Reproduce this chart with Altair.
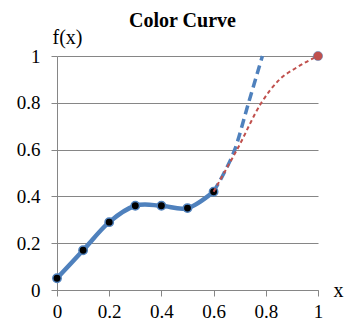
import altair as alt
import pandas as pd

# main data points (smoothed blue curve with markers)
x_pts = [0.0, 0.1, 0.2, 0.3, 0.4, 0.5, 0.6]
y_pts = [0.05, 0.17, 0.29, 0.36, 0.36, 0.35, 0.42]

# blue dashed extrapolation
blue_x = [0.6, 0.64, 0.681, 0.734, 0.787]
blue_y = [0.42, 0.5, 0.6, 0.8, 1.0]

# red dashed curve to end point
red_x = [0.6, 0.64, 0.69, 0.783, 0.853, 0.917, 1.0]
red_y = [0.42, 0.5, 0.6, 0.8, 0.9, 0.95, 1.0]

end_x = [1.0]
end_y = [1.0]

tick_vals = [0, 0.2, 0.4, 0.6, 0.8, 1.0]

BLUE = "#4F81BD"
RED = "#C0504D"
GRID = "#868686"
FONT = "Liberation Serif"

df_main = pd.DataFrame({"x": x_pts, "y": y_pts})
df_blue = pd.DataFrame({"x": blue_x, "y": blue_y})
df_red = pd.DataFrame({"x": red_x, "y": red_y})
df_end = pd.DataFrame({"x": end_x, "y": end_y})

xscale = alt.Scale(domain=[0, 1], nice=False, zero=False)
yscale = alt.Scale(domain=[0, 1], nice=False, zero=False)

xaxis = alt.Axis(
    values=tick_vals, format=".1~f", grid=False, domainColor=GRID, tickColor=GRID,
    tickSize=6, labelPadding=6, labelColor="black",
    title="x", titleFontWeight="normal",
    titleColor="black", titleAngle=0, titleX=281, titleY=6,
    titleBaseline="alphabetic", titleAlign="center", labelFlush=False,
)
yaxis = alt.Axis(
    values=tick_vals, format=".1~f", grid=True, gridColor=GRID, domainColor=GRID,
    tickColor=GRID, tickSize=6, labelPadding=11,
    labelColor="black", title="f(x)",
    titleFontWeight="normal", titleColor="black", titleAngle=0, titleX=10,
    titleY=-13, titleBaseline="alphabetic", titleAlign="center", labelFlush=False,
)

X = alt.X("x:Q", scale=xscale, axis=xaxis)
Y = alt.Y("y:Q", scale=yscale, axis=yaxis)

blue_dash = alt.Chart(df_blue).mark_line(
    color=BLUE, strokeWidth=3.5, strokeDash=[9, 5], interpolate="monotone"
).encode(x=X, y=Y)

main_line = alt.Chart(df_main).mark_line(
    color=BLUE, strokeWidth=4.5, interpolate="cardinal"
).encode(x=X, y=Y)

main_pts = alt.Chart(df_main).mark_point(
    filled=True, fill="black", stroke=BLUE, strokeWidth=1.5, size=70, opacity=1
).encode(x=X, y=Y)

red_dash = alt.Chart(df_red).mark_line(
    color=RED, strokeWidth=2, strokeDash=[4, 3], interpolate="monotone"
).encode(x=X, y=Y)

end_pt = alt.Chart(df_end).mark_point(
    filled=True, fill=RED, stroke=BLUE, strokeOpacity=0.5, strokeWidth=1, size=85, opacity=1
).encode(x=X, y=Y)

chart = alt.layer(blue_dash, main_line, main_pts, red_dash, end_pt).properties(
    width=261, height=234,
    title=alt.TitleParams(
        "Color Curve", font=FONT, fontSize=20, fontWeight="bold", color="black",
        anchor="middle", dx=-5, offset=-4,
    ),
    padding={"left": 49, "top": 48, "right": 30, "bottom": 30},
    autosize="none",
).configure(
    background="white", font=FONT
).configure_view(
    stroke=None
).configure_axis(
    labelFont=FONT, labelFontSize=19, titleFont=FONT, titleFontSize=20
)

chart.save("out.html", embed_options={"renderer": "svg", "actions": False})
